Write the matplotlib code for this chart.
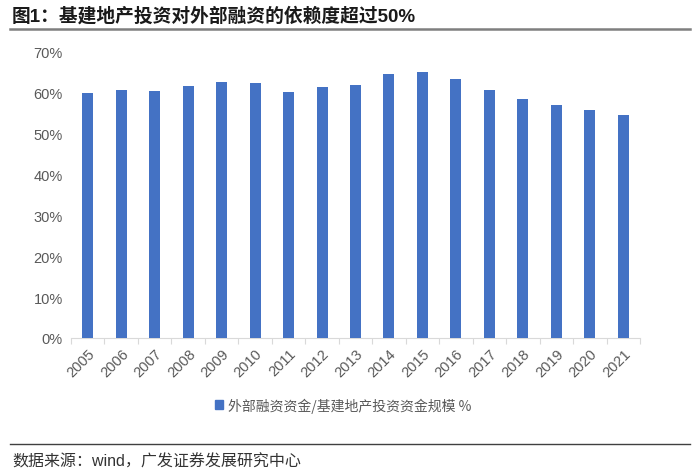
import matplotlib
matplotlib.use("Agg")
import matplotlib.pyplot as plt
from matplotlib.lines import Line2D
from matplotlib.ticker import FuncFormatter, FixedLocator
import numpy as np

plt.rcParams['font.family'] = ['Liberation Sans', 'Noto Sans CJK SC', 'DejaVu Sans']

years = ['2005', '2006', '2007', '2008', '2009', '2010', '2011', '2012', '2013',
         '2014', '2015', '2016', '2017', '2018', '2019', '2020', '2021']
values = [60.0, 60.8, 60.5, 61.8, 62.6, 62.4, 60.3, 61.5, 62.0,
          64.7, 65.2, 63.3, 60.7, 58.4, 57.1, 55.9, 54.5]
series_name = '外部融资资金/基建地产投资资金规模 %'
title = '图1：基建地产投资对外部融资的依赖度超过50%'
source = '数据来源：wind，广发证券发展研究中心'

bar_color = '#4472C4'
gray = '#595959'

fig = plt.figure(figsize=(7.0, 4.77), dpi=100)
ax = fig.add_axes([71/700, 1-339/477, (640-71)/700, (339-53)/477])

x = np.arange(len(years))
vals = np.array(values) / 100.0
ax.bar(x, vals, width=0.33, color=bar_color, zorder=3, label=series_name)

ax.set_xlim(-0.5, len(years) - 0.5)
ax.set_ylim(0, 0.70)
ax.set_yticks(np.arange(0, 0.71, 0.10))
ax.yaxis.set_major_formatter(FuncFormatter(lambda v, p: f'{v*100:.0f}%'))
ax.set_xticks(x)
ax.set_xticklabels(years, rotation=45, ha='right', rotation_mode='anchor')
ax.xaxis.set_minor_locator(FixedLocator(np.arange(-0.5, len(years), 1.0)))
ax.tick_params(axis='x', which='major', length=0, pad=6, labelsize=10.5, labelcolor=gray)
ax.tick_params(axis='x', which='minor', length=4, color='#D9D9D9', width=0.8)
ax.tick_params(axis='y', length=0, labelsize=10.5, labelcolor=gray, pad=6)

for s in ['top', 'right', 'left']:
    ax.spines[s].set_visible(False)
ax.spines['bottom'].set_color('#D9D9D9')
ax.spines['bottom'].set_linewidth(0.8)

leg = fig.legend(handles=[plt.Rectangle((0, 0), 1, 1, color=bar_color)],
                 labels=[series_name], loc='center', bbox_to_anchor=(343/700, 1-406/477),
                 frameon=False, handlelength=0.6, handleheight=0.6, handletextpad=0.3,
                 prop={'family': ['Noto Sans CJK SC', 'DejaVu Sans'], 'size': 10})
for t in leg.get_texts():
    t.set_color(gray)

fig.text(12/700, 1-16/477, title, fontsize=13.5, fontweight='bold', color='#1a1a1a',
         va='center', ha='left')
fig.add_artist(Line2D([10/700, 690/700], [1-30/477, 1-30/477], color='#7F7F7F',
                      linewidth=1.8, transform=fig.transFigure))
fig.add_artist(Line2D([10/700, 690/700], [1-445/477, 1-445/477], color='#404040',
                      linewidth=1.0, transform=fig.transFigure))
fig.text(12/700, 1-462/477, source, fontsize=11.5, color='#333333', va='center', ha='left')

fig.savefig('out.png', dpi=100)
